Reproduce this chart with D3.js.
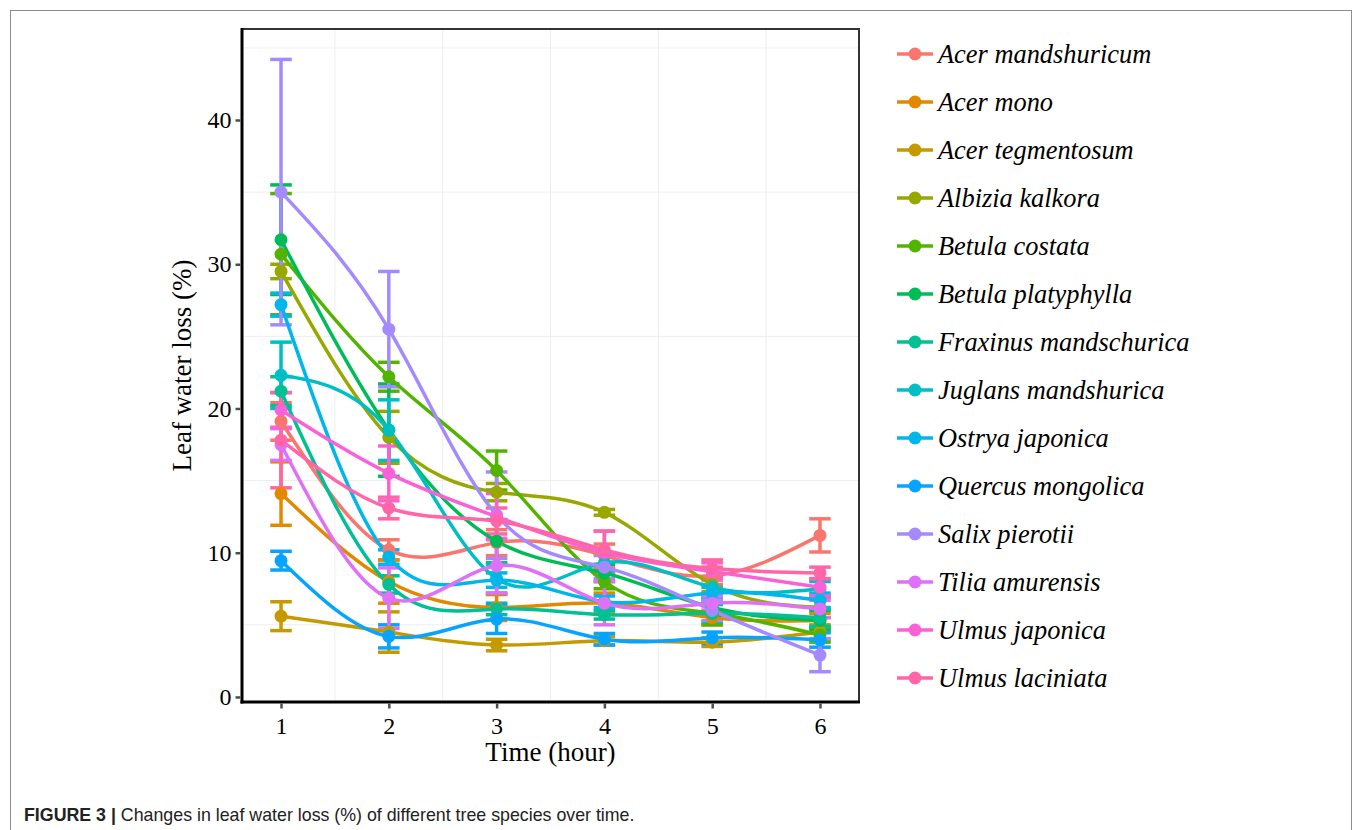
<!DOCTYPE html>
<html>
<head>
<meta charset="utf-8">
<script src="https://cdn.jsdelivr.net/npm/d3@7"></script>
<style>
  body { margin: 0; background: #fff; }
  svg text { font-family: "Liberation Serif", "Times New Roman", serif; }
  .caption { font-family: "Liberation Sans", Arial, sans-serif; }
</style>
</head>
<body>
<svg id="chart" width="1360" height="830"></svg>
<script>
// data
var times = [1, 2, 3, 4, 5, 6];
var species = ['Acer mandshuricum', 'Acer mono', 'Acer tegmentosum', 'Albizia kalkora',
  'Betula costata', 'Betula platyphylla', 'Fraxinus mandschurica', 'Juglans mandshurica',
  'Ostrya japonica', 'Quercus mongolica', 'Salix pierotii', 'Tilia amurensis',
  'Ulmus japonica', 'Ulmus laciniata'];
var colors = ['#F8766D', '#E38900', '#C49A00', '#99A800', '#53B400', '#00BC56', '#00C094',
  '#00BFC4', '#00B6EB', '#06A4FF', '#A58AFF', '#DF70F8', '#FB61D7', '#FF66A8'];

// mean leaf water loss (%) per hour
var meanAcerMand   = [19.1, 10.2, 10.7, 9.8, 8.4, 11.2];
var meanAcerMono   = [14.1, 8.0, 6.2, 6.5, 5.5, 5.3];
var meanAcerTeg    = [5.6, 4.5, 3.6, 3.9, 3.8, 4.5];
var meanAlbizia    = [29.5, 18.0, 14.2, 12.8, 7.8, 6.2];
var meanBetCost    = [30.7, 22.2, 15.7, 8.0, 5.8, 4.3];
var meanBetPlaty   = [31.7, 18.5, 10.8, 8.6, 6.2, 5.3];
var meanFraxinus   = [21.2, 7.8, 6.1, 5.7, 5.8, 5.5];
var meanJuglans    = [22.3, 18.5, 8.2, 9.3, 7.6, 7.5];
var meanOstrya     = [27.2, 9.7, 8.1, 6.6, 7.2, 6.7];
var meanQuercus    = [9.45, 4.2, 5.4, 4.0, 4.1, 3.95];
var meanSalix      = [35.0, 25.5, 12.6, 9.0, 6.0, 2.9];
var meanTilia      = [17.5, 6.85, 9.1, 6.5, 6.5, 6.1];
var meanUlmJap     = [19.9, 15.5, 12.5, 10.0, 8.7, 7.6];
var meanUlmLac     = [17.8, 13.1, 12.2, 10.2, 8.9, 8.6];

// error bar half widths
var errAcerMand   = [1.3, 0.7, 0.9, 0.8, 0.6, 1.15];
var errAcerMono   = [2.2, 1.5, 0.9, 0.7, 0.5, 0.5];
var errAcerTeg    = [1.0, 1.4, 0.4, 0.3, 0.3, 0.5];
var errAlbizia    = [0.5, 1.8, 0.6, 0.2, 0.5, 0.7];
var errBetCost    = [4.2, 1.0, 1.35, 0.5, 0.8, 0.5];
var errBetPlaty   = [3.8, 3.2, 1.5, 0.6, 0.6, 0.7];
var errFraxinus   = [1.0, 0.6, 0.4, 0.3, 0.6, 0.6];
var errJuglans    = [2.3, 2.1, 1.0, 0.6, 0.6, 0.5];
var errOstrya     = [0.8, 0.5, 0.5, 0.4, 0.4, 0.5];
var errQuercus    = [0.65, 0.8, 1.0, 0.4, 0.4, 0.5];
var errSalix      = [9.2, 4.0, 3.0, 0.8, 0.7, 1.15];
var errTilia      = [1.1, 2.1, 1.9, 1.5, 0.5, 0.6];
var errUlmJap     = [1.2, 1.9, 1.6, 1.5, 0.6, 0.6];
var errUlmLac     = [3.3, 0.75, 0.9, 1.3, 0.6, 0.4];

var means = [meanAcerMand, meanAcerMono, meanAcerTeg, meanAlbizia, meanBetCost, meanBetPlaty,
  meanFraxinus, meanJuglans, meanOstrya, meanQuercus, meanSalix, meanTilia, meanUlmJap, meanUlmLac];
var errs = [errAcerMand, errAcerMono, errAcerTeg, errAlbizia, errBetCost, errBetPlaty,
  errFraxinus, errJuglans, errOstrya, errQuercus, errSalix, errTilia, errUlmJap, errUlmLac];

var yTicks = [0, 10, 20, 30, 40];
var yMinor = [5, 15, 25, 35, 45];
var xMinor = [1.5, 2.5, 3.5, 4.5, 5.5];

var series = species.map(function(name, i) {
  return {
    name: name,
    color: colors[i],
    points: times.map(function(t, j) {
      return { t: t, v: means[i][j], e: errs[i][j] };
    })
  };
});

var svg = d3.select('#chart');

// figure frame
svg.append('rect')
  .attr('x', 10.5).attr('y', 10.5)
  .attr('width', 1341).attr('height', 840)
  .attr('fill', 'none').attr('stroke', '#8c8c8c').attr('stroke-width', 1);

var panel = { left: 242, right: 859, top: 29, bottom: 702 };

var x = d3.scaleLinear().domain([0.638, 6.362]).range([panel.left, panel.right]);
var y = d3.scaleLinear().domain([-0.35, 46.31]).range([panel.bottom, panel.top]);

// minor grid only
var grid = svg.append('g').attr('class', 'grid');
grid.selectAll('line.gy').data(yMinor).enter().append('line')
  .attr('x1', panel.left).attr('x2', panel.right)
  .attr('y1', function(d) { return y(d); }).attr('y2', function(d) { return y(d); })
  .attr('stroke', '#eeeeee').attr('stroke-width', 1);
grid.selectAll('line.gx').data(xMinor).enter().append('line')
  .attr('y1', panel.top).attr('y2', panel.bottom)
  .attr('x1', function(d) { return x(d); }).attr('x2', function(d) { return x(d); })
  .attr('stroke', '#eeeeee').attr('stroke-width', 1);

var capHalf = x(1.1) - x(1);

// error bars
var bars = svg.append('g').attr('class', 'errorbars');
series.forEach(function(s) {
  var g = bars.append('g').attr('stroke', s.color).attr('stroke-width', 3.5).attr('fill', 'none');
  g.selectAll('line.v').data(s.points).enter().append('line')
    .attr('x1', function(d) { return x(d.t); }).attr('x2', function(d) { return x(d.t); })
    .attr('y1', function(d) { return y(d.v - d.e); }).attr('y2', function(d) { return y(d.v + d.e); });
  g.selectAll('line.top').data(s.points).enter().append('line')
    .attr('x1', function(d) { return x(d.t) - capHalf; }).attr('x2', function(d) { return x(d.t) + capHalf; })
    .attr('y1', function(d) { return y(d.v + d.e); }).attr('y2', function(d) { return y(d.v + d.e); });
  g.selectAll('line.bot').data(s.points).enter().append('line')
    .attr('x1', function(d) { return x(d.t) - capHalf; }).attr('x2', function(d) { return x(d.t) + capHalf; })
    .attr('y1', function(d) { return y(d.v - d.e); }).attr('y2', function(d) { return y(d.v - d.e); });
});

// smoothed lines
var line = d3.line()
  .x(function(d) { return x(d.t); })
  .y(function(d) { return y(d.v); })
  .curve(d3.curveNatural);

svg.append('g').attr('class', 'lines')
  .selectAll('path').data(series).enter().append('path')
  .attr('d', function(s) { return line(s.points); })
  .attr('fill', 'none')
  .attr('stroke', function(s) { return s.color; })
  .attr('stroke-width', 3.5);

// points
var pts = svg.append('g').attr('class', 'points');
series.forEach(function(s) {
  pts.append('g').selectAll('circle').data(s.points).enter().append('circle')
    .attr('cx', function(d) { return x(d.t); })
    .attr('cy', function(d) { return y(d.v); })
    .attr('r', 6.5)
    .attr('fill', s.color);
});

// panel border + axis lines
svg.append('rect')
  .attr('x', panel.left).attr('y', panel.top)
  .attr('width', panel.right - panel.left).attr('height', panel.bottom - panel.top)
  .attr('fill', 'none').attr('stroke', '#333').attr('stroke-width', 2);
svg.append('line')
  .attr('x1', panel.left).attr('x2', panel.left)
  .attr('y1', panel.top - 1).attr('y2', panel.bottom + 1.5)
  .attr('stroke', '#000').attr('stroke-width', 3);
svg.append('line')
  .attr('x1', panel.left - 1.5).attr('x2', panel.right + 1)
  .attr('y1', panel.bottom).attr('y2', panel.bottom)
  .attr('stroke', '#000').attr('stroke-width', 3);

// axes
var yAxis = d3.axisLeft(y).tickValues(yTicks).tickSize(5).tickPadding(4);
var xAxis = d3.axisBottom(x).tickValues(times).tickFormat(d3.format('d')).tickSize(5).tickPadding(8);

var gy = svg.append('g').attr('transform', 'translate(' + (panel.left - 1.5) + ',0)').call(yAxis);
var gx = svg.append('g').attr('transform', 'translate(0,' + (panel.bottom + 1.5) + ')').call(xAxis);
[gy, gx].forEach(function(g) {
  g.select('.domain').remove();
  g.selectAll('.tick line').attr('stroke', '#4d4d4d').attr('stroke-width', 2.5);
  g.selectAll('.tick text')
    .attr('fill', '#000')
    .style('font-family', '"Liberation Serif", serif')
    .style('font-size', '24px');
});

// axis titles
svg.append('text')
  .attr('x', (panel.left + panel.right) / 2).attr('y', 761)
  .attr('text-anchor', 'middle')
  .style('font-size', '27px')
  .text('Time (hour)');
svg.append('text')
  .attr('transform', 'translate(191,' + ((panel.top + panel.bottom) / 2) + ') rotate(-90)')
  .attr('text-anchor', 'middle')
  .style('font-size', '27px')
  .text('Leaf water loss (%)');

// legend
var legend = svg.append('g').attr('class', 'legend');
var item = legend.selectAll('g').data(series).enter().append('g')
  .attr('transform', function(s, i) { return 'translate(897,' + (54 + i * 48) + ')'; });
item.append('line')
  .attr('x1', 0).attr('x2', 36).attr('y1', 0).attr('y2', 0)
  .attr('stroke', function(s) { return s.color; }).attr('stroke-width', 3.5);
item.append('circle')
  .attr('cx', 18).attr('cy', 0).attr('r', 6.5)
  .attr('fill', function(s) { return s.color; });
item.append('text')
  .attr('x', 41).attr('y', 8.5)
  .style('font-size', '26.4px')
  .style('font-style', 'italic')
  .text(function(s) { return s.name; });

// caption
var cap = svg.append('text')
  .attr('class', 'caption')
  .attr('x', 24).attr('y', 821)
  .style('font-size', '17.8px')
  .attr('fill', '#222');
cap.append('tspan').style('font-weight', 'bold').text('FIGURE 3 | ');
cap.append('tspan').text('Changes in leaf water loss (%) of different tree species over time.');
</script>
</body>
</html>
